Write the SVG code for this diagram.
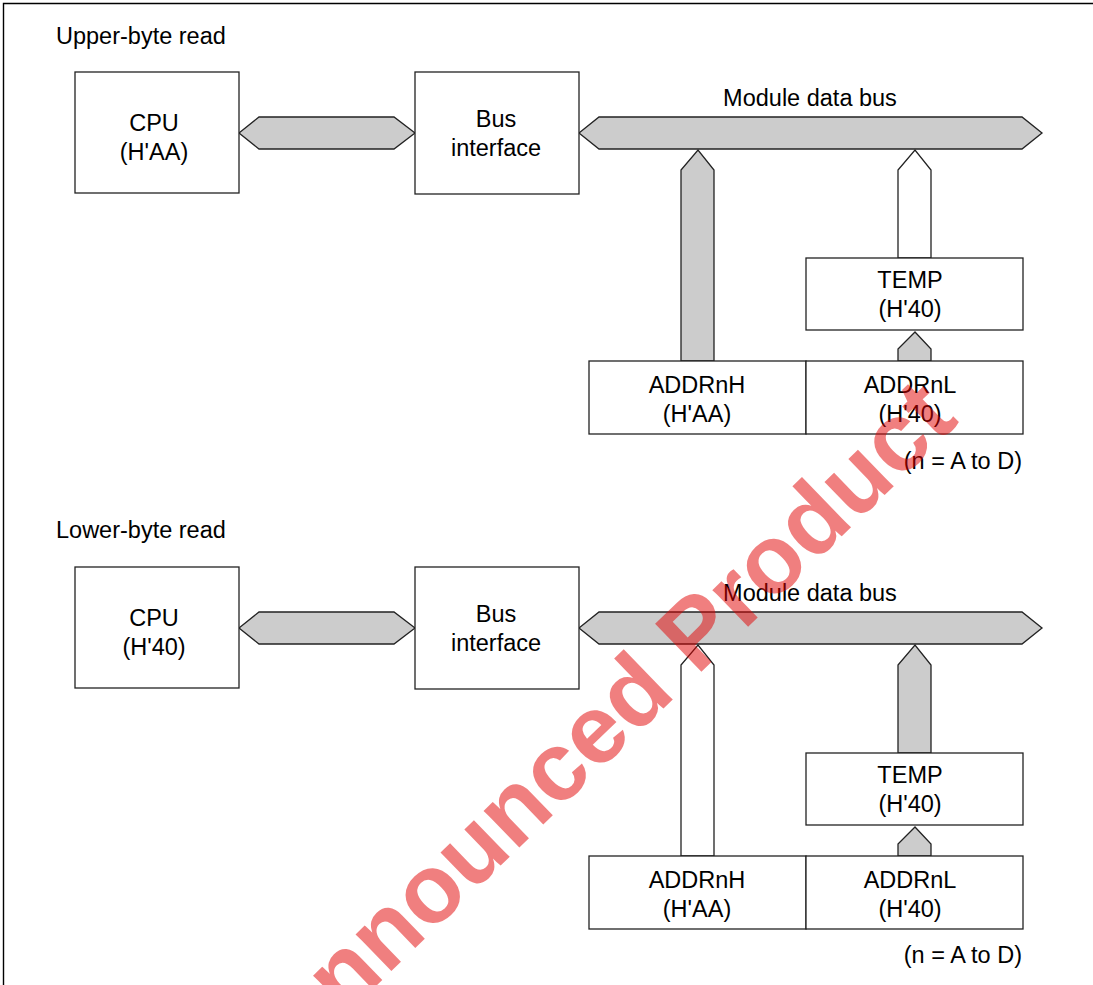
<svg xmlns="http://www.w3.org/2000/svg" width="1093" height="985" viewBox="0 0 1093 985">
  <style>
    .frame{fill:none;stroke:#000;stroke-width:1.4}
    .box{fill:#fff;stroke:#222;stroke-width:1.3}
    .gbus{fill:#cccccc;stroke:#222;stroke-width:1.3;stroke-linejoin:miter}
    .wbus{fill:#fff;stroke:#222;stroke-width:1.3;stroke-linejoin:miter}
    text{font-family:"Liberation Sans",Arial,Helvetica,sans-serif;font-size:23.5px;fill:#000}
    .c{text-anchor:middle}
    .r{text-anchor:end}
    .wm{font-family:"Liberation Sans",Arial,sans-serif;font-weight:bold;font-size:97px;fill:#e10000;fill-opacity:0.5}
  </style>
  <path class="frame" d="M3.5,985 V3.5 H1093"/>

  <!-- Upper-byte read -->
  <text x="56" y="44">Upper-byte read</text>
  <g id="connectors-upper">
    <polygon class="gbus" points="239,133 259,117 394,117 415,133 394,149 259,149"/>
    <polygon class="gbus" points="579,133 599,117 1022,117 1042,133 1022,149 599,149"/>
    <polygon class="gbus" points="681,361 681,170 698,150 714,170 714,361"/>
    <polygon class="wbus" points="898,258 898,170 915,150 931,170 931,258"/>
    <polygon class="gbus" points="898,361 898,349 915,332 931,349 931,361"/>
  </g>
  <text x="810" y="106" class="c">Module data bus</text>
  <g id="cpu-upper">
    <rect class="box" x="75" y="72" width="164" height="121"/>
    <text x="154" y="131" class="c">CPU</text>
    <text x="154" y="160" class="c">(H'AA)</text>
  </g>
  <g id="busif-upper">
    <rect class="box" x="415" y="72" width="164" height="122"/>
    <text x="496" y="127" class="c">Bus</text>
    <text x="496" y="156" class="c">interface</text>
  </g>
  <g id="temp-upper">
    <rect class="box" x="806" y="258" width="217" height="72"/>
    <text x="910" y="288" class="c">TEMP</text>
    <text x="910" y="317" class="c">(H'40)</text>
  </g>
  <g id="addrh-upper">
    <rect class="box" x="589" y="361" width="217" height="73"/>
    <text x="697" y="393" class="c">ADDRnH</text>
    <text x="697" y="422" class="c">(H'AA)</text>
  </g>
  <g id="addrl-upper">
    <rect class="box" x="806" y="361" width="217" height="73"/>
    <text x="910" y="393" class="c">ADDRnL</text>
    <text x="910" y="422" class="c">(H'40)</text>
  </g>
  <text x="1022" y="469" class="r">(n = A to D)</text>

  <!-- Lower-byte read -->
  <text x="56" y="538">Lower-byte read</text>
  <g id="connectors-lower">
    <polygon class="gbus" points="239,628 259,612 394,612 415,628 394,644 259,644"/>
    <polygon class="gbus" points="579,628 599,612 1022,612 1042,628 1022,644 599,644"/>
    <polygon class="wbus" points="681,856 681,665 698,645 714,665 714,856"/>
    <polygon class="gbus" points="898,753 898,665 915,645 931,665 931,753"/>
    <polygon class="gbus" points="898,856 898,844 915,827 931,844 931,856"/>
  </g>
  <text x="810" y="601" class="c">Module data bus</text>
  <g id="cpu-lower">
    <rect class="box" x="75" y="567" width="164" height="121"/>
    <text x="154" y="626" class="c">CPU</text>
    <text x="154" y="655" class="c">(H'40)</text>
  </g>
  <g id="busif-lower">
    <rect class="box" x="415" y="567" width="164" height="122"/>
    <text x="496" y="622" class="c">Bus</text>
    <text x="496" y="651" class="c">interface</text>
  </g>
  <g id="temp-lower">
    <rect class="box" x="806" y="753" width="217" height="72"/>
    <text x="910" y="783" class="c">TEMP</text>
    <text x="910" y="812" class="c">(H'40)</text>
  </g>
  <g id="addrh-lower">
    <rect class="box" x="589" y="856" width="217" height="73"/>
    <text x="697" y="888" class="c">ADDRnH</text>
    <text x="697" y="917" class="c">(H'AA)</text>
  </g>
  <g id="addrl-lower">
    <rect class="box" x="806" y="856" width="217" height="73"/>
    <text x="910" y="888" class="c">ADDRnL</text>
    <text x="910" y="917" class="c">(H'40)</text>
  </g>
  <text x="1022" y="963" class="r">(n = A to D)</text>

  <!-- watermark -->
  <text class="wm" transform="translate(344,1017) rotate(-44)">nnounced Product</text>
</svg>
